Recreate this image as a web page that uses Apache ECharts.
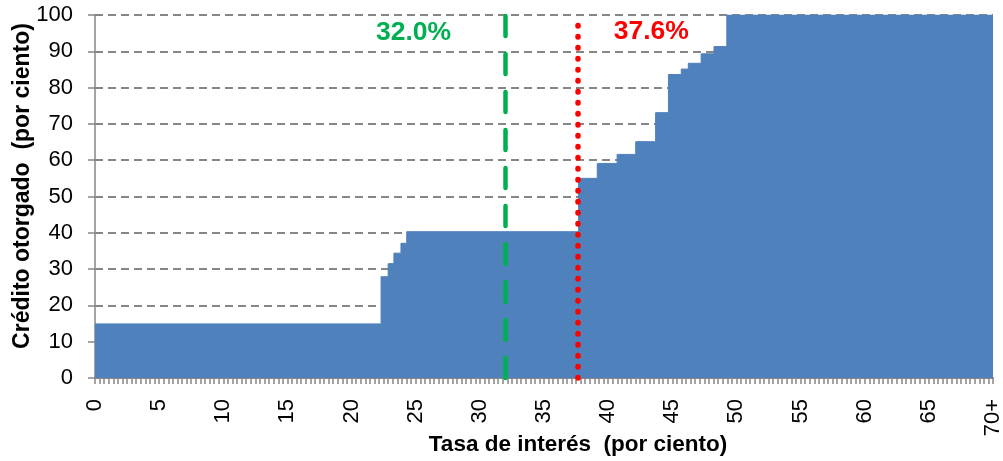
<!DOCTYPE html>
<html>
<head>
<meta charset="utf-8">
<script src="https://cdn.jsdelivr.net/npm/echarts@6/dist/echarts.min.js"></script>
<style>
  html, body { margin: 0; padding: 0; background: #ffffff; }
  #chart { width: 1003px; height: 461px; }
</style>
</head>
<body>
<div id="chart"></div>
<script>
// Cumulative share of credit granted by interest rate (step curve)
const rateSteps = [0, 22.3, 22.85, 23.3, 23.85, 24.3, 37.7, 39.15, 40.7, 42.15, 43.7, 44.7, 45.7, 46.25, 47.25, 48.25, 49.25, 70];
const creditShare = [14.9, 27.9, 31.5, 34.4, 37.1, 40.3, 55.0, 59.1, 61.6, 65.1, 73.1, 83.6, 85.1, 86.7, 89.3, 91.3, 100, 100];

// x-axis tick labels (every 5 points), last one open-ended
const xTickLabels = ['0', '5', '10', '15', '20', '25', '30', '35', '40', '45', '50', '55', '60', '65', '70+'];

// Reference rates marked with vertical lines
const greenRate = 32.0;
const redRate = 37.6;

const FONT = '"Liberation Sans", Arial, sans-serif';
const AXIS_GRAY = '#868686';

const chart = echarts.init(document.getElementById('chart'), null, { renderer: 'canvas' });

const stepData = rateSteps.map((x, i) => [x, creditShare[i]]);

chart.setOption({
  animation: false,
  backgroundColor: '#ffffff',
  grid: { left: 95, right: 10, top: 15, bottom: 83, containLabel: false, outerBoundsMode: 'none' },
  xAxis: {
    type: 'value',
    min: 0,
    max: 70,
    interval: 5,
    name: 'Tasa de interés  (por ciento)',
    nameLocation: 'middle',
    nameGap: 55,
    nameMoveOverlap: false,
    nameTextStyle: {
      fontFamily: FONT, fontSize: 22.5, fontWeight: 'bold', color: '#000000',
      padding: [0, 0, 0, 68]
    },
    axisLine: { show: true, lineStyle: { color: AXIS_GRAY, width: 2 } },
    axisTick: { show: true, length: 6, lineStyle: { color: AXIS_GRAY, width: 1.5 } },
    minorTick: { show: true, splitNumber: 14, length: 6, lineStyle: { color: AXIS_GRAY, width: 1.5 } },
    splitLine: { show: false },
    axisLabel: {
      rotate: 90,
      margin: 21,
      fontFamily: FONT, fontSize: 22, color: '#000000',
      formatter: v => xTickLabels[Math.round(v / 5)]
    }
  },
  yAxis: {
    type: 'value',
    min: 0,
    max: 100,
    interval: 10,
    name: 'Crédito otorgado  (por ciento)',
    nameLocation: 'middle',
    nameGap: 61,
    nameMoveOverlap: false,
    nameTextStyle: {
      fontFamily: FONT, fontSize: 23, fontWeight: 'bold', color: '#000000',
      padding: [0, 0, 0, 21]
    },
    axisLine: { show: true, lineStyle: { color: AXIS_GRAY, width: 1.5 } },
    axisTick: { show: true, length: 7, lineStyle: { color: AXIS_GRAY, width: 1.5 } },
    splitLine: { show: true, lineStyle: { color: AXIS_GRAY, width: 2, type: [8, 5] } },
    axisLabel: { margin: 22, fontFamily: FONT, fontSize: 22, color: '#000000' }
  },
  series: [
    {
      type: 'line',
      step: 'end',
      data: stepData,
      symbol: 'none',
      lineStyle: { color: '#4F81BD', width: 1 },
      areaStyle: { color: '#4F81BD', opacity: 1 },
      z: 2
    },
    {
      type: 'line',
      data: [],
      z: 5,
      markLine: {
        silent: true,
        symbol: 'none',
        label: { show: false },
        data: [
          { xAxis: greenRate, lineStyle: { color: '#00B050', width: 4.5, type: [20, 18], cap: 'round' } },
          { xAxis: redRate, lineStyle: { color: '#FF0000', width: 5.5, type: [0.5, 10.5], cap: 'round' } }
        ]
      },
      markPoint: {
        silent: true,
        symbol: 'circle',
        symbolSize: 0,
        data: [
          {
            coord: [greenRate, 100],
            label: {
              show: true, position: 'inside', offset: [-92, 18],
              formatter: greenRate.toFixed(1) + '%',
              fontFamily: FONT, fontSize: 26.5, fontWeight: 'bold', color: '#00B050'
            }
          },
          {
            coord: [redRate, 100],
            label: {
              show: true, position: 'inside', offset: [74, 17],
              formatter: redRate.toFixed(1) + '%',
              fontFamily: FONT, fontSize: 26.5, fontWeight: 'bold', color: '#FF0000'
            }
          }
        ]
      }
    }
  ]
});
</script>
</body>
</html>
